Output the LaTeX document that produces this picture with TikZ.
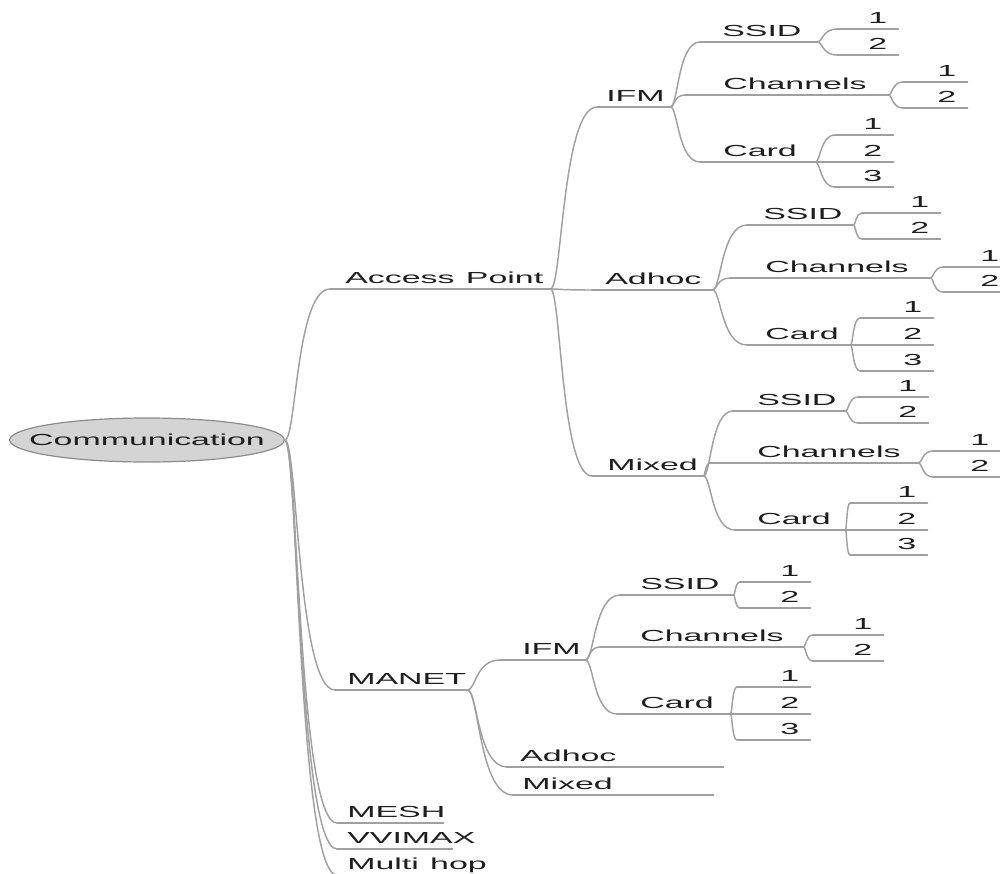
\documentclass[tikz,border=0pt]{standalone}
\usepackage{fontspec}
\setmainfont{Liberation Sans}
\usepackage{graphicx}
\usetikzlibrary{calc,shapes.geometric}
\definecolor{linecol}{HTML}{A0A0A0}
\definecolor{txtcol}{HTML}{1E1E1E}
\definecolor{rootfill}{HTML}{D4D4D4}
\definecolor{rootdraw}{HTML}{8C8C8C}
\tikzset{
  item/.style={inner sep=0pt, text height=8.6pt, text depth=3.75pt, align=left,
    text=txtcol, font=\fontsize{12}{14}\selectfont},
  uline/.style={draw=linecol, line width=1.1pt, line cap=round},
  link/.style={draw=linecol, line width=1.1pt, line cap=round,
    to path={let \p1=(\tikztostart), \p2=(\tikztotarget) in
      .. controls ({\x1+0.25*(\x2-\x1)},\y1) and ({\x1+0.25*(\x2-\x1)},\y2) .. (\tikztotarget)}},
  rootnode/.style={ellipse, fill=rootfill, draw=rootdraw, line width=0.9pt,
    minimum width=206pt, minimum height=33pt, inner sep=0pt, text=txtcol,
    font=\fontsize{12}{14}\selectfont}
}
\newcommand\mmnode[6]{%
  \pgfmathsetmacro\mmw{(#3-#2)*0.75}%
  \pgfmathsetmacro\mmp{(#5-#2)*0.75}%
  \node[item, text width=\mmw pt, anchor=south west] (#1) at (#2,#4)
    {\hspace*{\mmp pt}\scalebox{2.12}[1]{#6}};%
}
\newcommand\mmleaf[5]{%
  \pgfmathsetmacro\mmw{(#3-#2-22)*0.75}%
  \node[item, text width=\mmw pt, align=right, inner xsep=8.25pt, anchor=south west] (#1) at (#2,#4)
    {\scalebox{2.12}[1]{#5}};%
}
\begin{document}
\begin{tikzpicture}[x=0.75pt, y=-0.75pt]
\useasboundingbox (0,0) rectangle (1000,874);
% root
\node[rootnode] (root) at (147,440) {\makebox[0pt]{\scalebox{2.12}[1]{Communication}}};
% level 1
\mmnode{ap}{330}{550}{289}{345}{Access Point}
\mmnode{manet}{335}{467}{690}{347}{MANET}
\mmnode{mesh}{337}{443}{823}{347}{MESH}
\mmnode{wimax}{337}{452}{849}{347}{VVIMAX}
\mmnode{mhop}{337}{490}{875}{347}{Multi hop}
% under Access Point
\mmnode{ifmA}{597}{670}{107}{606}{IFM}
\mmnode{adhA}{592}{712}{290}{605}{Adhoc}
\mmnode{mixA}{592}{703}{476}{607}{Mixed}
% IFM (AP)
\mmnode{ssA}{700}{817}{42}{722}{SSID}
\mmnode{chA}{685}{888}{95}{723}{Channels}
\mmnode{cdA}{700}{815}{162}{723}{Card}
\mmleaf{ssA1}{837}{898}{29}{1}
\mmleaf{ssA2}{837}{898}{55}{2}
\mmleaf{chA1}{903}{967}{82}{1}
\mmleaf{chA2}{903}{967}{108}{2}
\mmleaf{cdA1}{835}{893}{135}{1}
\mmleaf{cdA2}{835}{893}{162}{2}
\mmleaf{cdA3}{835}{893}{187}{3}
% Adhoc (AP)
\mmnode{ssB}{747}{853}{225}{763}{SSID}
\mmnode{chB}{730}{930}{278}{765}{Channels}
\mmnode{cdB}{747}{850}{345}{765}{Card}
\mmleaf{ssB1}{862}{940}{213}{1}
\mmleaf{ssB2}{862}{940}{239}{2}
\mmleaf{chB1}{943}{1010}{267}{1}
\mmleaf{chB2}{943}{1010}{292}{2}
\mmleaf{cdB1}{860}{933}{318}{1}
\mmleaf{cdB2}{860}{933}{345}{2}
\mmleaf{cdB3}{860}{933}{371}{3}
% Mixed (AP)
\mmnode{ssC}{733}{845}{411}{757}{SSID}
\mmnode{chC}{710}{918}{463}{757}{Channels}
\mmnode{cdC}{735}{845}{530}{757}{Card}
\mmleaf{ssC1}{858}{928}{397}{1}
\mmleaf{ssC2}{858}{928}{423}{2}
\mmleaf{chC1}{933}{1000}{451}{1}
\mmleaf{chC2}{933}{1000}{477}{2}
\mmleaf{cdC1}{850}{927}{503}{1}
\mmleaf{cdC2}{850}{927}{530}{2}
\mmleaf{cdC3}{850}{927}{555}{3}
% under MANET
\mmnode{ifmM}{500}{585}{660}{522}{IFM}
\mmnode{adhM}{507}{723}{767}{520}{Adhoc}
\mmnode{mixM}{513}{713}{795}{522}{Mixed}
\mmnode{ssD}{620}{733}{595}{640}{SSID}
\mmnode{chD}{600}{803}{647}{640}{Channels}
\mmnode{cdD}{617}{730}{714}{640}{Card}
\mmleaf{ssD1}{740}{810}{582}{1}
\mmleaf{ssD2}{740}{810}{608}{2}
\mmleaf{chD1}{813}{883}{635}{1}
\mmleaf{chD2}{813}{883}{661}{2}
\mmleaf{cdD1}{737}{810}{687}{1}
\mmleaf{cdD2}{737}{810}{714}{2}
\mmleaf{cdD3}{737}{810}{740}{3}
% underlines
\foreach \nm in {ap,manet,mesh,wimax,mhop,ifmA,adhA,mixA,ssA,chA,cdA,ssA1,ssA2,chA1,chA2,cdA1,cdA2,cdA3,
  ssB,chB,cdB,ssB1,ssB2,chB1,chB2,cdB1,cdB2,cdB3,ssC,chC,cdC,ssC1,ssC2,chC1,chC2,cdC1,cdC2,cdC3,
  ifmM,adhM,mixM,ssD,chD,cdD,ssD1,ssD2,chD1,chD2,cdD1,cdD2,cdD3}
  \draw[uline] (\nm.south west) -- (\nm.south east);
% connectors from root
\foreach \ch in {ap,manet,mesh,wimax,mhop}
  \draw[link] (root.east) to (\ch.south west);
% other connectors
\foreach \pa/\ch in {ap/ifmA,ap/adhA,ap/mixA,
  ifmA/ssA,ifmA/chA,ifmA/cdA,ssA/ssA1,ssA/ssA2,chA/chA1,chA/chA2,cdA/cdA1,cdA/cdA2,cdA/cdA3,
  adhA/ssB,adhA/chB,adhA/cdB,ssB/ssB1,ssB/ssB2,chB/chB1,chB/chB2,cdB/cdB1,cdB/cdB2,cdB/cdB3,
  mixA/ssC,mixA/chC,mixA/cdC,ssC/ssC1,ssC/ssC2,chC/chC1,chC/chC2,cdC/cdC1,cdC/cdC2,cdC/cdC3,
  manet/ifmM,manet/adhM,manet/mixM,
  ifmM/ssD,ifmM/chD,ifmM/cdD,ssD/ssD1,ssD/ssD2,chD/chD1,chD/chD2,cdD/cdD1,cdD/cdD2,cdD/cdD3}
  \draw[link] (\pa.south east) to (\ch.south west);
\end{tikzpicture}
\end{document}
